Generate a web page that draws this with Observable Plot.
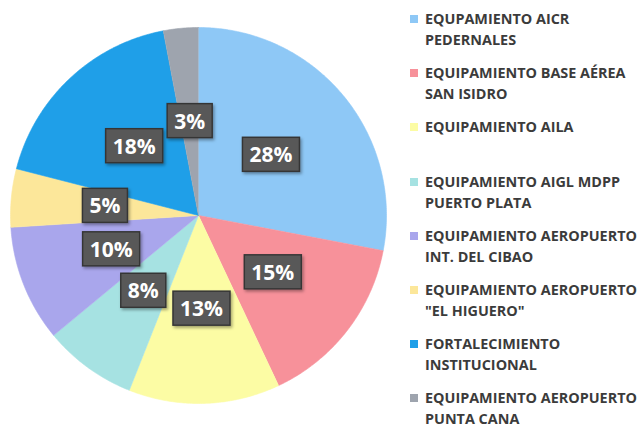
<!DOCTYPE html>
<html><head><meta charset="utf-8">
<script src="https://cdn.jsdelivr.net/npm/d3@7"></script>
<script src="https://cdn.jsdelivr.net/npm/@observablehq/plot@0.6"></script>
<style>
body{margin:0;background:#fff;}
#wrap{position:relative;width:641px;height:427px;overflow:hidden;background:#fff;}
#chart{position:absolute;left:0;top:0;}
#legend{position:absolute;left:408px;top:8px;font-family:"Open Sans",sans-serif;font-weight:700;font-size:14.4px;color:#3b3b3b;}
.item{position:relative;height:54.2px;padding-left:17px;line-height:21px;white-space:nowrap;}
.sw{position:absolute;left:2px;top:7px;width:8px;height:8px;}
</style></head><body>
<div id="wrap"><div id="chart"></div><div id="legend"></div></div>
<script>
// Data
const categories = [
  "EQUPAMIENTO AICR PEDERNALES",
  "EQUIPAMIENTO BASE AÉREA SAN ISIDRO",
  "EQUIPAMIENTO AILA",
  "EQUIPAMIENTO AIGL MDPP PUERTO PLATA",
  "EQUIPAMIENTO AEROPUERTO INT. DEL CIBAO",
  "EQUIPAMIENTO AEROPUERTO \"EL HIGUERO\"",
  "FORTALECIMIENTO INSTITUCIONAL",
  "EQUIPAMIENTO AEROPUERTO PUNTA CANA"
];
const legendLines = [
  ["EQUPAMIENTO AICR", "PEDERNALES"],
  ["EQUIPAMIENTO BASE AÉREA", "SAN ISIDRO"],
  ["EQUIPAMIENTO AILA"],
  ["EQUIPAMIENTO AIGL MDPP", "PUERTO PLATA"],
  ["EQUIPAMIENTO AEROPUERTO", "INT. DEL CIBAO"],
  ["EQUIPAMIENTO AEROPUERTO", "\"EL HIGUERO\""],
  ["FORTALECIMIENTO", "INSTITUCIONAL"],
  ["EQUIPAMIENTO AEROPUERTO", "PUNTA CANA"]
];
const shares = [28, 15, 13, 8, 10, 5, 18, 3];
const colors = ["#8ec8f6", "#f7919a", "#fcfca4", "#a6e2e2", "#a9a6ec", "#fce79a", "#1f9fe8", "#9ea4ae"];

// Pie geometry (unit circle), computed with d3.pie
const W = 641, H = 427, cx = 198, cy = 215, R = 188;
const rows = categories.map((c, i) => ({name: c, value: shares[i]}));
const arcs = d3.pie().sort(null).value(d => d.value)(rows);
const pts = arcs.flatMap(a => {
  const n = Math.max(2, Math.ceil((a.endAngle - a.startAngle) / 0.01));
  const out = [{name: a.data.name, x: 0, y: 0}];
  for (let k = 0; k <= n; k++) {
    const t = a.startAngle + (a.endAngle - a.startAngle) * k / n;
    out.push({name: a.data.name, x: Math.sin(t), y: Math.cos(t)});
  }
  return out;
});
const labels = arcs.map(a => {
  const m = (a.startAngle + a.endAngle) / 2;
  return {text: `${a.data.value}%`, x: 0.5 * Math.sin(m), y: 0.5 * Math.cos(m)};
});

const plot = Plot.plot({
  width: W, height: H, margin: 0,
  x: {domain: [-cx / R, (W - cx) / R], axis: null},
  y: {domain: [-(H - cy) / R, cy / R], axis: null},
  color: {domain: categories, range: colors},
  marks: [
    Plot.line(pts, {x: "x", y: "y", z: "name", fill: "name", stroke: "name", strokeWidth: 0.6}),
    Plot.text(labels, {x: "x", y: "y", text: "text", fill: "white", fontSize: 21, fontWeight: 700, fontFamily: "Open Sans"})
  ]
});
document.getElementById("chart").appendChild(plot);

// Label boxes behind the percentage texts (same transform as each text)
const ns = "http://www.w3.org/2000/svg";
const defs = document.createElementNS(ns, "defs");
defs.innerHTML = '<filter id="sh" x="-20%" y="-20%" width="150%" height="160%"><feDropShadow dx="1.5" dy="2" stdDeviation="1.5" flood-color="#000" flood-opacity="0.35"/></filter>';
plot.insertBefore(defs, plot.firstChild);
Array.from(plot.querySelectorAll("text")).forEach(t => {
  const b = t.getBBox();
  const r = document.createElementNS(ns, "rect");
  const my = b.y + b.height / 2;
  r.setAttribute("x", b.x - 7);
  r.setAttribute("y", my - 17);
  r.setAttribute("width", b.width + 14);
  r.setAttribute("height", 34);
  r.setAttribute("fill", "#595959");
  r.setAttribute("stroke", "#363636");
  r.setAttribute("stroke-width", 1.5);
  r.setAttribute("filter", "url(#sh)");
  const tr = t.getAttribute("transform");
  if (tr) r.setAttribute("transform", tr);
  t.parentNode.insertBefore(r, t);
});

// Legend
const leg = d3.select("#legend");
legendLines.forEach((lines, i) => {
  const it = leg.append("div").attr("class", "item");
  it.append("div").attr("class", "sw").style("background", colors[i]);
  lines.forEach(l => it.append("div").text(l));
});
</script>
</body></html>
